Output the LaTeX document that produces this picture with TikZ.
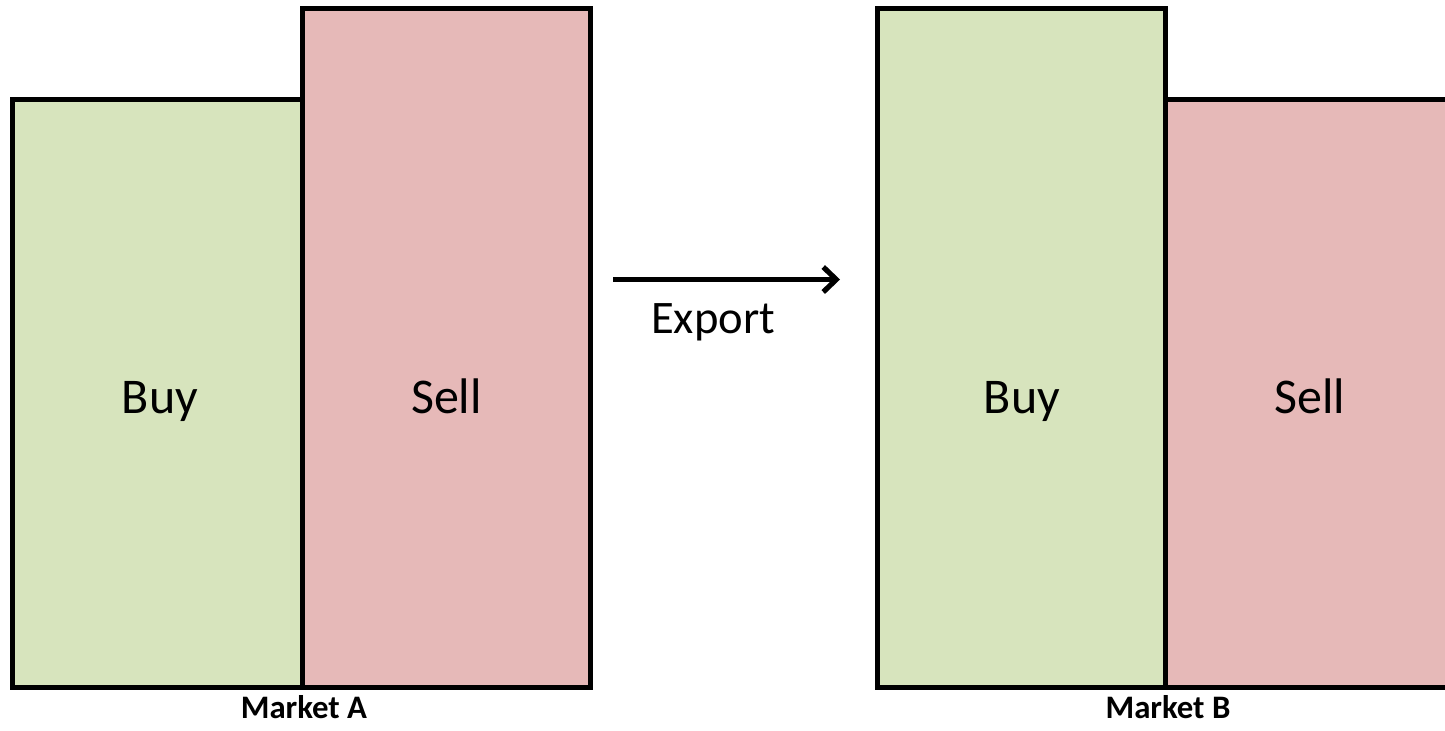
\documentclass[tikz,border=0pt]{standalone}
\usepackage{fontspec}
\setmainfont{Carlito}
\usetikzlibrary{arrows.meta}
\definecolor{buyc}{HTML}{D7E4BD}
\definecolor{sellc}{HTML}{E6B9B8}
\tikzset{
  bar/.style={draw=black, line width=2.5pt},
  bigtext/.style={anchor=base, font=\fontsize{25}{30}\selectfont, inner sep=0pt},
  mkt/.style={anchor=base, font=\bfseries\fontsize{16.4}{19}\selectfont, inner sep=0pt},
  exportarrow/.style={line width=2.6pt, -{Straight Barb[length=6.5pt,width=12.5pt,line width=2.6pt]}}
}
\begin{document}
\begin{tikzpicture}[x=0.5pt,y=-0.5pt]
\clip (0,0) rectangle (1445,730);
% Market A
\draw[bar, fill=buyc] (12,99.5) rectangle (302.5,687.5);
\draw[bar, fill=sellc] (302.5,8.5) rectangle (590.5,687.5);
% Market B
\draw[bar, fill=buyc] (877.5,8.5) rectangle (1165.5,687.5);
\draw[bar, fill=sellc] (1165.5,99.5) rectangle (1455,687.5);
% labels
\node[bigtext] (buyA) at (160,413.5) {Buy};
\node[bigtext] (sellA) at (446.5,413.5) {Sell};
\node[bigtext] (buyB) at (1022,413.5) {Buy};
\node[bigtext] (sellB) at (1310,413.5) {Sell};
\node[mkt] (mA) at (304,718.5) {Market A};
\node[mkt] (mB) at (1168,718.5) {Market B};
% export arrow
\coordinate (ex0) at (613,279.5);
\coordinate (ex1) at (840,279.5);
\draw[exportarrow] (ex0) -- (ex1);
\node[anchor=base, font=\fontsize{23.3}{28}\selectfont, inner sep=0pt] (exl) at (713,333.5) {Export};
\end{tikzpicture}
\end{document}
